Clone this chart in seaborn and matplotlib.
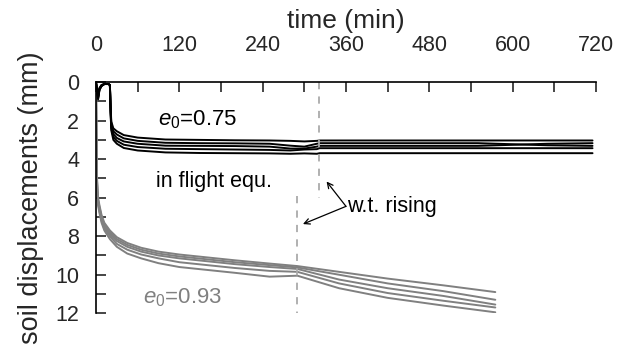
import numpy as np
import pandas as pd
import matplotlib
matplotlib.use("Agg")
import matplotlib.pyplot as plt
import seaborn as sns

# ---- data ----
t_black = [0, 1, 3, 5, 8, 12, 18, 20, 21, 22, 25, 30, 40, 60, 100, 150, 200, 250, 280, 300, 318, 322, 360, 450, 550, 650, 715]
black_1 = [0, 0.3, 0.7, 0.3, 0.15, 0.1, 0.1, 0.15, 1.2, 2.05, 2.4, 2.55, 2.75, 2.88, 2.98, 3.0, 3.02, 3.03, 3.05, 3.08, 3.05, 3.03, 3.03, 3.03, 3.03, 3.03, 3.03]
black_2 = [0, 0.3, 0.75, 0.35, 0.15, 0.1, 0.1, 0.15, 1.3, 2.2, 2.55, 2.72, 2.92, 3.05, 3.15, 3.17, 3.18, 3.2, 3.3, 3.35, 3.2, 3.17, 3.17, 3.17, 3.17, 3.28, 3.31]
black_3 = [0, 0.3, 0.8, 0.35, 0.2, 0.1, 0.1, 0.15, 1.4, 2.3, 2.7, 2.9, 3.08, 3.2, 3.3, 3.31, 3.32, 3.35, 3.45, 3.45, 3.35, 3.31, 3.31, 3.31, 3.31, 3.2, 3.17]
black_4 = [0, 0.3, 0.85, 0.4, 0.2, 0.1, 0.1, 0.15, 1.5, 2.4, 2.85, 3.05, 3.25, 3.37, 3.46, 3.48, 3.5, 3.52, 3.55, 3.5, 3.48, 3.43, 3.43, 3.43, 3.43, 3.43, 3.43]
black_5 = [0, 0.3, 0.9, 0.4, 0.2, 0.1, 0.1, 0.15, 1.6, 2.5, 3.0, 3.2, 3.42, 3.55, 3.65, 3.68, 3.69, 3.7, 3.72, 3.7, 3.72, 3.69, 3.69, 3.69, 3.69, 3.69, 3.69]

t_gray = [0, 0.5, 1, 2, 3, 5, 8, 12, 20, 30, 45, 65, 90, 120, 160, 200, 250, 290, 350, 420, 500, 575]
gray_1 = [0, 2.5, 4.5, 5.5, 6.0, 6.4, 6.9, 7.3, 7.7, 8.05, 8.35, 8.6, 8.8, 8.95, 9.1, 9.25, 9.42, 9.55, 9.85, 10.2, 10.55, 10.9]
gray_2 = [0, 2.5, 4.5, 5.6, 6.1, 6.5, 7.0, 7.4, 7.8, 8.15, 8.45, 8.7, 8.9, 9.05, 9.2, 9.35, 9.5, 9.62, 10.0, 10.45, 10.85, 11.3]
gray_3 = [0, 2.6, 4.6, 5.7, 6.2, 6.6, 7.1, 7.5, 7.9, 8.25, 8.55, 8.8, 9.0, 9.15, 9.3, 9.45, 9.6, 9.7, 10.25, 10.7, 11.1, 11.55]
gray_4 = [0, 2.6, 4.7, 5.8, 6.3, 6.7, 7.2, 7.6, 8.0, 8.4, 8.7, 8.95, 9.15, 9.35, 9.5, 9.65, 9.8, 9.85, 10.45, 10.95, 11.35, 11.7]
gray_5 = [0, 2.7, 4.8, 5.9, 6.4, 6.8, 7.3, 7.7, 8.15, 8.55, 8.9, 9.15, 9.4, 9.6, 9.75, 9.9, 10.1, 10.05, 10.7, 11.2, 11.6, 11.95]

x_ticks = [0, 120, 240, 360, 480, 600, 720]
y_ticks = [0, 2, 4, 6, 8, 10, 12]
wt_black_t = 321
wt_gray_t = 290

# ---- build long table ----
rows = []
for i, s in enumerate([black_1, black_2, black_3, black_4, black_5]):
    for t, d in zip(t_black, s):
        rows.append(dict(t=t, d=d, uid=f"b{i}", grp="e075"))
for i, s in enumerate([gray_1, gray_2, gray_3, gray_4, gray_5]):
    for t, d in zip(t_gray, s):
        rows.append(dict(t=t, d=d, uid=f"g{i}", grp="e093"))
df = pd.DataFrame(rows)

sns.set_style("white")
plt.rcParams['font.family'] = ['Liberation Sans', 'DejaVu Sans']
plt.rcParams['mathtext.fontset'] = 'custom'
plt.rcParams['mathtext.rm'] = 'Liberation Sans'
plt.rcParams['mathtext.it'] = 'Liberation Sans:italic'

fig = plt.figure(figsize=(6.25, 3.45), dpi=100)
ax = fig.add_axes([0.1536, 0.092, 0.8, 0.670])

sns.lineplot(data=df[df.grp == "e093"], x="t", y="d", units="uid", estimator=None,
             color="#808080", lw=1.4, sort=False, ax=ax, legend=False)
sns.lineplot(data=df[df.grp == "e075"], x="t", y="d", units="uid", estimator=None,
             color="black", lw=1.4, sort=False, ax=ax, legend=False)

ax.plot([wt_black_t, wt_black_t], [0, 6.0], ls=(0, (4, 4)), color="#aaaaaa", lw=1.3)
ax.plot([wt_gray_t, wt_gray_t], [5.9, 12], ls=(0, (4, 4)), color="#aaaaaa", lw=1.3)

ax.set_xlim(0, 720)
ax.set_ylim(12, 0)
ax.set_xticks(x_ticks)
ax.set_xticks(np.arange(0, 721, 60), minor=True)
ax.set_yticks(y_ticks)
ax.set_yticks(np.arange(0, 13, 1), minor=True)
ax.xaxis.tick_top()
ax.xaxis.set_label_position("top")
ax.tick_params(axis="x", which="both", direction="in", length=7, width=1.2, top=True, bottom=False,
               labelsize=15.5, pad=19)
ax.tick_params(axis="y", which="both", direction="in", length=7, width=1.2, left=True,
               labelsize=15.5, pad=12)
for sp in ["right", "bottom"]:
    ax.spines[sp].set_visible(False)
for sp in ["left", "top"]:
    ax.spines[sp].set_color("black")
    ax.spines[sp].set_linewidth(1.2)

ax.set_xlabel("time (min)", fontsize=19, labelpad=5)
ax.set_ylabel("soil displacements (mm)", fontsize=19.5, labelpad=8)

ax.text(89, 1.97, r"$e_{\mathit{0}}$=0.75", fontsize=16, va="center", ha="left", color="black")
ax.text(68, 11.2, r"$e_{\mathit{0}}$=0.93", fontsize=16, va="center", ha="left", color="#808080")
ax.text(86, 5.16, "in flight equ.", fontsize=15.5, va="center", ha="left", color="black")
ax.text(362, 6.45, "w.t. rising", fontsize=15.5, va="center", ha="left", color="black")
ax.annotate("", xy=(332, 5.16), xytext=(360, 6.45),
            arrowprops=dict(arrowstyle="->", color="black", lw=0.9, shrinkA=0, shrinkB=0))
ax.annotate("", xy=(298, 7.37), xytext=(360, 6.45),
            arrowprops=dict(arrowstyle="->", color="black", lw=0.9, shrinkA=0, shrinkB=0))

fig.savefig("out.png", dpi=100)
